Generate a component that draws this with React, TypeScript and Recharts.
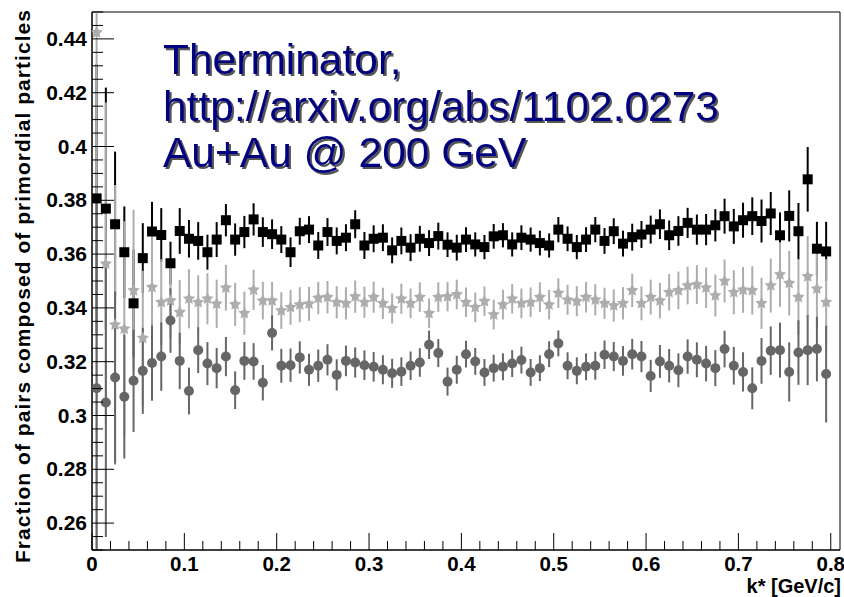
import React from 'react';
import { ScatterChart, Scatter, XAxis, YAxis, ErrorBar, ReferenceArea, Customized } from 'recharts';

// bin centres of k* [GeV/c] (80 bins of width 0.01)
const kStar: number[] = Array.from({ length: 80 }, (_, i) => Math.round((0.005 + 0.01 * i) * 1000) / 1000);

const blackVals = [
  0.3807, 0.3769, 0.3711, 0.3607, 0.3417, 0.3585, 0.3684, 0.3671, 0.3566, 0.3686,
  0.3657, 0.3649, 0.3607, 0.3654, 0.3726, 0.3654, 0.3682, 0.3729, 0.3682, 0.3674,
  0.3654, 0.3607, 0.3685, 0.3691, 0.3632, 0.3682, 0.3649, 0.3661, 0.3711, 0.3632,
  0.3657, 0.3661, 0.3614, 0.3649, 0.3624, 0.3657, 0.3641, 0.3667, 0.3635, 0.3624,
  0.3654, 0.3636, 0.3626, 0.3666, 0.3670, 0.3636, 0.3661, 0.3654, 0.3641, 0.3632,
  0.3691, 0.3657, 0.3626, 0.3654, 0.3691, 0.3649, 0.3685, 0.3639, 0.3663, 0.3673,
  0.3691, 0.3711, 0.3670, 0.3686, 0.3716, 0.3691, 0.3691, 0.3707, 0.3741, 0.3703,
  0.3726, 0.3741, 0.3723, 0.3751, 0.3670, 0.3742, 0.3685, 0.3878, 0.3620, 0.3610,
];
const blackErr = [
  0.05, 0.045, 0.027, 0.017, 0.02, 0.013, 0.011, 0.01, 0.008, 0.0085,
  0.007, 0.007, 0.0065, 0.0065, 0.006, 0.006, 0.006, 0.006, 0.0055, 0.0055,
  0.005, 0.0055, 0.005, 0.005, 0.005, 0.0052, 0.005, 0.005, 0.0052, 0.005,
  0.005, 0.005, 0.0048, 0.005, 0.005, 0.0048, 0.0048, 0.005, 0.0046, 0.0048,
  0.0046, 0.0045, 0.0045, 0.0046, 0.0045, 0.0045, 0.0046, 0.0045, 0.0046, 0.0045,
  0.0047, 0.0046, 0.0045, 0.0046, 0.0047, 0.0048, 0.0048, 0.0048, 0.005, 0.005,
  0.0052, 0.0055, 0.0055, 0.0055, 0.0056, 0.0056, 0.0058, 0.006, 0.0065, 0.0065,
  0.0065, 0.007, 0.008, 0.008, 0.0085, 0.0095, 0.0105, 0.012, 0.01, 0.011,
];

const lightVals = [
  0.4424, 0.3564, 0.3337, 0.3322, 0.3465, 0.3288, 0.3477, 0.3421, 0.3427, 0.3384,
  0.3434, 0.3421, 0.3434, 0.3415, 0.3475, 0.3413, 0.3380, 0.3467, 0.3427, 0.3427,
  0.3390, 0.3402, 0.3412, 0.3415, 0.3437, 0.3440, 0.3421, 0.3417, 0.3442, 0.3421,
  0.3440, 0.3417, 0.3398, 0.3434, 0.3417, 0.3440, 0.3380, 0.3440, 0.3442, 0.3450,
  0.3421, 0.3402, 0.3425, 0.3375, 0.3412, 0.3434, 0.3417, 0.3421, 0.3440, 0.3412,
  0.3455, 0.3430, 0.3425, 0.3440, 0.3430, 0.3417, 0.3409, 0.3417, 0.3465, 0.3417,
  0.3440, 0.3427, 0.3458, 0.3465, 0.3483, 0.3487, 0.3475, 0.3446, 0.3500, 0.3458,
  0.3467, 0.3465, 0.3417, 0.3483, 0.3524, 0.3492, 0.3440, 0.3517, 0.3471, 0.3421,
];
const lightErr = [
  0.2, 0.06, 0.052, 0.04, 0.03, 0.025, 0.02, 0.016, 0.014, 0.012,
  0.011, 0.01, 0.0095, 0.009, 0.0085, 0.008, 0.008, 0.0075, 0.007, 0.007,
  0.0068, 0.0065, 0.0065, 0.0063, 0.006, 0.006, 0.006, 0.006, 0.006, 0.0058,
  0.0058, 0.0058, 0.0056, 0.0056, 0.0055, 0.0055, 0.0055, 0.0055, 0.0055, 0.0055,
  0.0055, 0.0055, 0.0055, 0.0055, 0.0055, 0.0055, 0.0055, 0.0055, 0.0055, 0.0055,
  0.0055, 0.0056, 0.0056, 0.0057, 0.0058, 0.0058, 0.006, 0.006, 0.0062, 0.0063,
  0.0065, 0.0066, 0.0068, 0.007, 0.007, 0.0072, 0.0075, 0.0078, 0.008, 0.0082,
  0.0085, 0.009, 0.0095, 0.01, 0.012, 0.012, 0.014, 0.015, 0.015, 0.016,
];

const darkVals = [
  0.3101, 0.3048, 0.3141, 0.3070, 0.3129, 0.3166, 0.3195, 0.3219, 0.3353, 0.3203,
  0.3091, 0.3243, 0.3193, 0.3176, 0.3219, 0.3094, 0.3203, 0.3201, 0.3122, 0.3307,
  0.3185, 0.3187, 0.3216, 0.3170, 0.3185, 0.3207, 0.3151, 0.3203, 0.3197, 0.3187,
  0.3181, 0.3170, 0.3157, 0.3163, 0.3185, 0.3197, 0.3263, 0.3232, 0.3126, 0.3170,
  0.3228, 0.3201, 0.3160, 0.3176, 0.3181, 0.3193, 0.3206, 0.3160, 0.3176, 0.3228,
  0.3268, 0.3185, 0.3166, 0.3181, 0.3185, 0.3226, 0.3219, 0.3203, 0.3228, 0.3219,
  0.3147, 0.3201, 0.3185, 0.3168, 0.3219, 0.3207, 0.3193, 0.3176, 0.3247, 0.3185,
  0.3162, 0.3101, 0.3203, 0.3241, 0.3243, 0.3162, 0.3234, 0.3243, 0.3247, 0.3154,
];
const darkErr = [
  0.07, 0.05, 0.032, 0.023, 0.019, 0.016, 0.014, 0.0127, 0.012, 0.0105,
  0.0087, 0.0085, 0.008, 0.0075, 0.0073, 0.007, 0.007, 0.0068, 0.0066, 0.0065,
  0.0063, 0.0062, 0.006, 0.006, 0.006, 0.0058, 0.0058, 0.0057, 0.0056, 0.0055,
  0.0055, 0.0054, 0.0054, 0.0053, 0.0053, 0.0053, 0.0053, 0.0052, 0.0052, 0.0052,
  0.005, 0.005, 0.005, 0.005, 0.005, 0.005, 0.005, 0.005, 0.0048, 0.0048,
  0.0048, 0.005, 0.005, 0.005, 0.0052, 0.0053, 0.0054, 0.0055, 0.0057, 0.0058,
  0.006, 0.0061, 0.0062, 0.0063, 0.0064, 0.0065, 0.0066, 0.0067, 0.0068, 0.007,
  0.0073, 0.0078, 0.0085, 0.009, 0.0102, 0.011, 0.012, 0.013, 0.012, 0.018,
];

const xTicks = [
  0, 0.02, 0.04, 0.06, 0.08, 0.1, 0.12, 0.14, 0.16, 0.18, 0.2, 0.22, 0.24, 0.26, 0.28, 0.3,
  0.32, 0.34, 0.36, 0.38, 0.4, 0.42, 0.44, 0.46, 0.48, 0.5, 0.52, 0.54, 0.56, 0.58, 0.6,
  0.62, 0.64, 0.66, 0.68, 0.7, 0.72, 0.74, 0.76, 0.78, 0.8,
];
const xMajor = [0, 0.1, 0.2, 0.3, 0.4, 0.5, 0.6, 0.7, 0.8];
const xLabels = ['0', '0.1', '0.2', '0.3', '0.4', '0.5', '0.6', '0.7', '0.8'];

const yTicks = [
  0.25, 0.255, 0.26, 0.265, 0.27, 0.275, 0.28, 0.285, 0.29, 0.295, 0.3, 0.305, 0.31, 0.315,
  0.32, 0.325, 0.33, 0.335, 0.34, 0.345, 0.35, 0.355, 0.36, 0.365, 0.37, 0.375, 0.38, 0.385,
  0.39, 0.395, 0.4, 0.405, 0.41, 0.415, 0.42, 0.425, 0.43, 0.435, 0.44, 0.445, 0.45,
];
const yMajor = [0.26, 0.28, 0.3, 0.32, 0.34, 0.36, 0.38, 0.4, 0.42, 0.44];
const yLabels = ['0.26', '0.28', '0.3', '0.32', '0.34', '0.36', '0.38', '0.4', '0.42', '0.44'];

const titleLines = ['Therminator,', 'http://arxiv.org/abs/1102.0273', 'Au+Au @ 200 GeV'];
const yTitle = 'Fraction of pairs composed of primordial particles';
const xTitle = 'k* [GeV/c]';

const X_DOMAIN: [number, number] = [0, 0.81];
const Y_DOMAIN: [number, number] = [0.25, 0.45];

// error bars are cut at the frame, like the original histogram drawing
const build = (vals: number[], errs: number[]) =>
  vals.map((v, i) => ({
    k: kStar[i],
    y: v,
    err: [Math.min(errs[i], v - Y_DOMAIN[0]), Math.min(errs[i], Y_DOMAIN[1] - v)],
  }));

const blackData = build(blackVals, blackErr);
const lightData = build(lightVals, lightErr);
const darkData = build(darkVals, darkErr);

const FONT = '"Liberation Sans", Arial, Helvetica, sans-serif';
const LIGHT = '#adadad';
const DARK = '#666666';

const near = (a: number, list: number[]) => list.findIndex((b) => Math.abs(a - b) < 1e-6);

const XTick = (props: any) => {
  const { x, y, payload } = props;
  const idx = near(payload.value, xMajor);
  const major = idx >= 0;
  return (
    <g>
      <line x1={x} x2={x} y1={y} y2={y - (major ? 17 : 9)} stroke="#000" strokeWidth={1} />
      {major && (
        <text x={x} y={y + 21} textAnchor="middle" fontFamily={FONT} fontWeight="bold" fontSize={20.5} fill="#000">
          {xLabels[idx]}
        </text>
      )}
    </g>
  );
};

const YTick = (props: any) => {
  const { x, y, payload } = props;
  const idx = near(payload.value, yMajor);
  const major = idx >= 0;
  return (
    <g>
      <line x1={x} x2={x + (major ? 22 : 11)} y1={y} y2={y} stroke="#000" strokeWidth={1} />
      {major && (
        <text x={x - 5} y={y + 7} textAnchor="end" fontFamily={FONT} fontWeight="bold" fontSize={21} fill="#000">
          {yLabels[idx]}
        </text>
      )}
    </g>
  );
};

const Square = (props: any) => {
  const { cx, cy } = props;
  if (cx == null || cy == null) return null;
  return <rect x={cx - 5} y={cy - 5} width={10} height={10} fill="#000" />;
};

const Circle = (props: any) => {
  const { cx, cy } = props;
  if (cx == null || cy == null) return null;
  return <circle cx={cx} cy={cy} r={5} fill={DARK} />;
};

const Star = (props: any) => {
  const { cx, cy } = props;
  if (cx == null || cy == null) return null;
  const R = 6.5;
  const r = 3.2;
  const pts: string[] = [];
  for (let i = 0; i < 10; i++) {
    const rad = i % 2 === 0 ? R : r;
    const a = -Math.PI / 2 + (i * Math.PI) / 5;
    pts.push(`${cx + rad * Math.cos(a)},${cy + rad * Math.sin(a)}`);
  }
  return <polygon points={pts.join(' ')} fill={LIGHT} />;
};

const Texts = () => (
  <g>
    <defs>
      <filter id="titleShadow" x="-5%" y="-20%" width="110%" height="140%">
        <feOffset in="SourceAlpha" dx={2} dy={2} result="off" />
        <feFlood floodColor="#555555" result="col" />
        <feComposite in="col" in2="off" operator="in" result="shadow" />
        <feMerge>
          <feMergeNode in="shadow" />
          <feMergeNode in="SourceGraphic" />
        </feMerge>
      </filter>
    </defs>
    {titleLines.map((t, i) => (
      <text
        key={i}
        x={163}
        y={74 + i * 46.5}
        fontFamily={FONT}
        fontSize={42.5}
        fill="#000080"
        filter="url(#titleShadow)"
      >
        {t}
      </text>
    ))}
    <text
      transform="translate(30, 10) rotate(-90)"
      x={0}
      y={0}
      textAnchor="end"
      fontFamily={FONT}
      fontWeight="bold"
      fontSize={21}
      textLength={553}
      lengthAdjust="spacing"
      fill="#000"
    >
      {yTitle}
    </text>
    <text x={841} y={593} textAnchor="end" fontFamily={FONT} fontWeight="bold" fontSize={20} fill="#000">
      {xTitle}
    </text>
  </g>
);

export default function App() {
  return (
    <div style={{ position: 'absolute', left: 0, top: 0, width: 844, height: 597, background: '#fff' }}>
      <ScatterChart width={844} height={597} margin={{ top: 12, right: 4, bottom: 0, left: 0 }}>
        <XAxis
          type="number"
          dataKey="k"
          domain={X_DOMAIN}
          allowDataOverflow
          ticks={xTicks}
          interval={0}
          height={47}
          tickSize={0}
          tickMargin={0}
          tickLine={false}
          axisLine={{ stroke: '#000', strokeWidth: 1 }}
          tick={<XTick />}
        />
        <YAxis
          type="number"
          dataKey="y"
          domain={Y_DOMAIN}
          allowDataOverflow
          ticks={yTicks}
          interval={0}
          width={92}
          tickSize={0}
          tickMargin={0}
          tickLine={false}
          axisLine={{ stroke: '#000', strokeWidth: 1 }}
          tick={<YTick />}
        />
        <ReferenceArea x1={X_DOMAIN[0]} x2={X_DOMAIN[1]} y1={Y_DOMAIN[0]} y2={Y_DOMAIN[1]} fill="none" stroke="#000" strokeWidth={1} ifOverflow="visible" />
        <Scatter data={blackData} dataKey="y" shape={<Square />} isAnimationActive={false}>
          <ErrorBar dataKey="err" direction="y" width={0} stroke="#000" strokeWidth={2} isAnimationActive={false} />
        </Scatter>
        <Scatter data={lightData} dataKey="y" shape={<Star />} isAnimationActive={false}>
          <ErrorBar dataKey="err" direction="y" width={0} stroke={LIGHT} strokeWidth={2} isAnimationActive={false} />
        </Scatter>
        <Scatter data={darkData} dataKey="y" shape={<Circle />} isAnimationActive={false}>
          <ErrorBar dataKey="err" direction="y" width={0} stroke={DARK} strokeWidth={2} isAnimationActive={false} />
        </Scatter>
        <Customized component={<Texts />} />
      </ScatterChart>
    </div>
  );
}
